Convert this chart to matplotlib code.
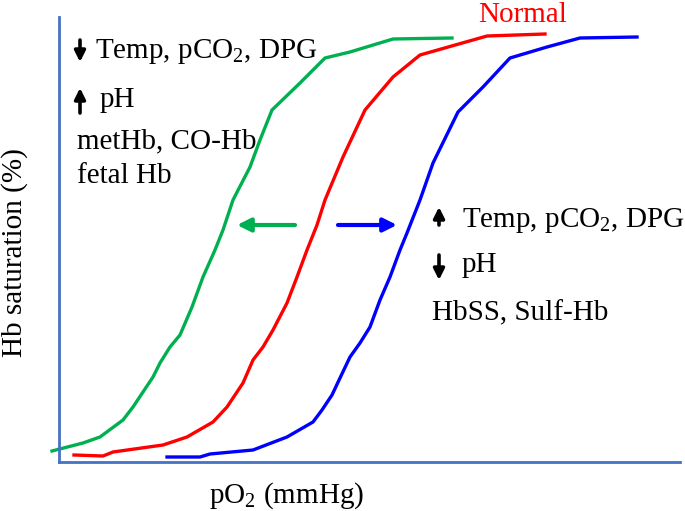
import matplotlib
matplotlib.use('Agg')
import matplotlib.pyplot as plt

plt.rcParams['font.family'] = ['Liberation Serif', 'DejaVu Serif']
plt.rcParams['mathtext.fontset'] = 'custom'
plt.rcParams['mathtext.rm'] = 'Liberation Serif'
plt.rcParams['mathtext.it'] = 'Liberation Serif:italic'

# curves (arbitrary units, x = pO2, y = saturation)
green_x = [-7, 24, 41, 64, 74, 84, 94, 101, 111, 121, 133, 144, 156, 164, 174, 191, 201, 213, 241, 266, 291, 334, 393]
green_y = [11, 19, 25, 42, 55, 70, 85, 99, 115, 127, 155, 185, 212, 232, 262, 295, 322, 352, 379, 404, 410, 423, 424]
red_x = [15, 44, 54, 104, 128, 154, 168, 176, 184, 194, 204, 214, 228, 238, 248, 258, 266, 284, 306, 334, 361, 428, 486]
red_y = [7, 6, 10, 17, 25, 40, 55, 67, 79, 102, 115, 132, 159, 185, 212, 237, 262, 305, 352, 385, 407, 426, 428]
blue_x = [108, 141, 151, 194, 228, 254, 263, 273, 281, 291, 301, 311, 321, 331, 341, 348, 361, 374, 399, 424, 451, 488, 521, 578]
blue_y = [5, 5, 8, 12, 25, 40, 52, 67, 84, 105, 119, 135, 162, 185, 212, 229, 262, 299, 350, 375, 404, 415, 424, 425]

left_lines = ['Temp, pCO$_2$, DPG', 'pH', 'metHb, CO-Hb', 'fetal Hb']
right_lines = ['Temp, pCO$_2$, DPG', 'pH', 'HbSS, Sulf-Hb']

fig = plt.figure(figsize=(6.85, 5.11), dpi=100)
ax = fig.add_axes([59/685, 49/511, 621/685, 445/511])
ax.set_xlim(0, 621)
ax.set_ylim(0, 445)
for s in ['top', 'right']:
    ax.spines[s].set_visible(False)
for s in ['left', 'bottom']:
    ax.spines[s].set_color('#4472C4')
    ax.spines[s].set_linewidth(2)
ax.set_xticks([])
ax.set_yticks([])

ax.plot(green_x, green_y, color='#00B050', lw=2.4, clip_on=False)
ax.plot(red_x, red_y, color='#FF0000', lw=2.4, clip_on=False)
ax.plot(blue_x, blue_y, color='#0000FF', lw=2.4, clip_on=False)

fs = 21
ax.text(36, 404, left_lines[0], fontsize=fs, va='baseline')
ax.text(41, 355, left_lines[1], fontsize=fs, va='baseline')
ax.text(18, 314, left_lines[2], fontsize=fs, va='baseline')
ax.text(18, 279, left_lines[3], fontsize=fs, va='baseline')

ax.text(403, 235, right_lines[0], fontsize=fs, va='baseline')
ax.text(403, 190, right_lines[1], fontsize=fs, va='baseline')
ax.text(373, 142, right_lines[2], fontsize=fs, va='baseline')

ax.text(419, 440, 'Normal', fontsize=fs, color='#FF0000', va='baseline')

ax.text(228, -41, 'pO$_2$ (mmHg)', fontsize=fs, ha='center', va='baseline')
ax.text(-44, 209, 'Hb saturation (%)', fontsize=fs, ha='center', va='center',
        rotation=90)

def arrow(tail, tip, color, lw, ms):
    ax.annotate('', xy=tip, xytext=tail, annotation_clip=False,
                arrowprops=dict(arrowstyle='-|>', color=color, lw=lw,
                                mutation_scale=ms, shrinkA=0, shrinkB=0))

# black up/down arrows
arrow((21, 422), (21, 400), 'black', 2.6, 16)
arrow((21, 349), (21, 374), 'black', 2.6, 16)
arrow((380, 237), (380, 255), 'black', 2.6, 16)
arrow((380, 207), (380, 182), 'black', 2.6, 16)

# shift arrows
arrow((236, 237), (178, 237), '#00B050', 3, 20)
arrow((279, 237), (338, 237), '#0000FF', 3, 20)

fig.savefig('out.png', dpi=100)
